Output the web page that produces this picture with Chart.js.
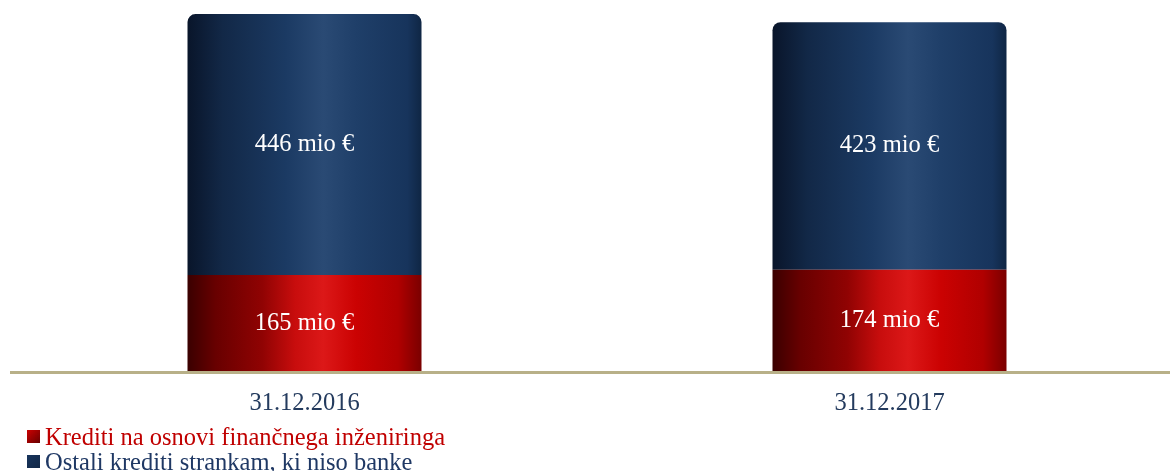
<!DOCTYPE html>
<html>
<head>
<meta charset="utf-8">
<script src="https://cdn.jsdelivr.net/npm/chart.js@4/dist/chart.umd.min.js"></script>
<style>
  html, body { margin: 0; padding: 0; background: #fff; overflow: hidden; }
  #wrap { position: relative; width: 1182px; height: 471px; }
  #chart { display: block; }
  #legend { position: absolute; left: 27px; top: 424px; font-family: "Liberation Serif", serif; font-size: 24.5px; line-height: 25px; }
  #legend div { display: flex; align-items: center; white-space: nowrap; }
  #legend span.box { display: inline-block; width: 13px; height: 13px; margin-right: 5px; }
</style>
</head>
<body>
<div id="wrap">
  <canvas id="chart" width="1182" height="471"></canvas>
  <div id="legend"></div>
</div>
<script>
const categories = ['31.12.2016', '31.12.2017'];
const seriesNames = ['Krediti na osnovi finančnega inženiringa', 'Ostali krediti strankam, ki niso banke'];
const financialEngineering = [165, 174];
const otherLoans = [446, 423];
const unit = ' mio €';

const redStops = [[0, '#3a0000'], [0.12, '#680000'], [0.32, '#900303'], [0.46, '#c80d0d'], [0.58, '#dc1818'], [0.72, '#cb0202'], [0.9, '#b00000'], [1, '#7a0000']];
const navyStops = [[0, '#09152a'], [0.15, '#122847'], [0.42, '#1b3a63'], [0.58, '#2a4a74'], [0.72, '#1f3f69'], [0.94, '#17345c'], [1, '#0f2644']];
const legendColors = ['#c00000', '#1f3864'];

// scriptable so every bar gets its own options object
const placeholder = (ctx) => (ctx.datasetIndex === 0 ? '#b00000' : '#1b3a63');

const cylinderFill = {
  id: 'cylinderFill',
  beforeDatasetsDraw(chart) {
    const { ctx } = chart;
    chart.data.datasets.forEach((ds, i) => {
      const stops = i === 0 ? redStops : navyStops;
      chart.getDatasetMeta(i).data.forEach((bar) => {
        const half = bar.width / 2;
        const g = ctx.createLinearGradient(bar.x - half, 0, bar.x + half, 0);
        stops.forEach(([p, c]) => g.addColorStop(p, c));
        bar.options.backgroundColor = g;
      });
    });
  }
};

const segmentLabels = {
  id: 'segmentLabels',
  afterDatasetsDraw(chart) {
    const { ctx } = chart;
    ctx.save();
    ctx.fillStyle = '#ffffff';
    ctx.font = '24.5px "Liberation Serif", serif';
    ctx.textAlign = 'center';
    ctx.textBaseline = 'middle';
    chart.data.datasets.forEach((ds, i) => {
      chart.getDatasetMeta(i).data.forEach((bar, j) => {
        ctx.fillText(ds.data[j] + unit, bar.x, (bar.y + bar.base) / 2);
      });
    });
    ctx.restore();
  }
};

const baseLine = {
  id: 'baseLine',
  afterDatasetsDraw(chart) {
    const { ctx, chartArea, scales: { y } } = chart;
    const yPos = y.getPixelForValue(0);
    ctx.save();
    ctx.strokeStyle = '#b8b088';
    ctx.lineWidth = 3;
    ctx.beginPath();
    ctx.moveTo(10, yPos + 1);
    ctx.lineTo(chartArea.right, yPos + 1);
    ctx.stroke();
    ctx.restore();
  }
};

const chart = new Chart(document.getElementById('chart'), {
  type: 'bar',
  data: {
    labels: categories,
    datasets: [
      { label: seriesNames[0], data: financialEngineering, backgroundColor: placeholder,
        barPercentage: 0.5, categoryPercentage: 0.8 },
      { label: seriesNames[1], data: otherLoans, backgroundColor: placeholder,
        barPercentage: 0.5, categoryPercentage: 0.8,
        borderRadius: { topLeft: 8, topRight: 8, bottomLeft: 0, bottomRight: 0 }, borderSkipped: false }
    ]
  },
  options: {
    responsive: false,
    animation: false,
    layout: { padding: { left: 12, right: 0, top: 0, bottom: 44 } },
    plugins: { legend: { display: false }, tooltip: { enabled: false } },
    scales: {
      x: {
        stacked: true,
        grid: { display: false },
        border: { display: false },
        ticks: { color: '#243b5e', padding: 9, font: { family: '"Liberation Serif", serif', size: 24.5 } }
      },
      y: { stacked: true, display: false, min: 0, max: 635 }
    }
  },
  plugins: [cylinderFill, baseLine, segmentLabels]
});

const legend = document.getElementById('legend');
seriesNames.forEach((name, i) => {
  const row = document.createElement('div');
  const stops = i === 0 ? redStops : navyStops;
  row.innerHTML = '<span class="box" style="background:linear-gradient(135deg,' + stops[5][1] + ',' + stops[1][1] + ')"></span>' +
    '<span style="color:' + legendColors[i] + '">' + name + '</span>';
  legend.appendChild(row);
});
</script>
</body>
</html>
